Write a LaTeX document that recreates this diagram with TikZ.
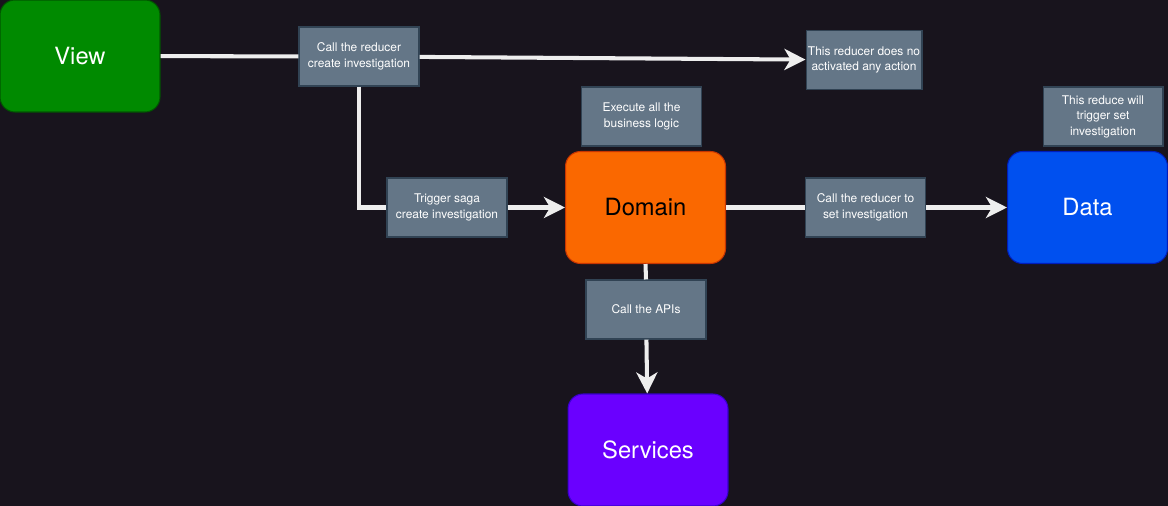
\documentclass[tikz,border=0pt]{standalone}
\usepackage{fontspec}
\setmainfont{TeX Gyre Heros}
\usetikzlibrary{arrows.meta}

\definecolor{bgdark}{HTML}{18141D}
\definecolor{viewgreen}{HTML}{008A00}
\definecolor{viewedge}{HTML}{005700}
\definecolor{domorange}{HTML}{FA6800}
\definecolor{domedge}{HTML}{C73500}
\definecolor{datablue}{HTML}{0050EF}
\definecolor{dataedge}{HTML}{001DBC}
\definecolor{servpurple}{HTML}{6A00FF}
\definecolor{servedge}{HTML}{3700CC}
\definecolor{notegray}{HTML}{647687}
\definecolor{noteedge}{HTML}{314354}
\definecolor{wireclr}{HTML}{EEEEEE}

\tikzset{
	layer/.style={rounded corners=0.3cm, minimum width=3.2cm, minimum height=2.24cm, line width=0.6pt, text=white, font=\fontsize{13.5}{16}\selectfont},
	note/.style={fill=notegray, draw=noteedge, line width=0.6pt, minimum width=2.4cm, minimum height=1.18cm, inner sep=1pt, align=center, text=white, font=\fontsize{6.8}{8.8}\selectfont},
	wire/.style={draw=wireclr, line width=2.3pt},
	flow/.style={wire, -{Stealth[length=12pt, width=12pt, inset=3.5pt]}}
}

\begin{document}
\begin{tikzpicture}[x=0.02cm, y=-0.02cm]
	\fill[bgdark] (0,0) rectangle (1168,506);
	\useasboundingbox (0,0) rectangle (1168,506);
	% layers
	\node[layer, fill=viewgreen, draw=viewedge] (view) at (80,56) {View};
	\node[layer, fill=domorange, draw=domedge, text=black] (domain) at (645.5,207.5) {Domain};
	\node[layer, fill=datablue, draw=dataedge] (data) at (1087.5,207.5) {Data};
	\node[layer, fill=servpurple, draw=servedge] (services) at (648,450) {Services};
	% notes
	\node[note] (callred) at (359,56.5) {Call the reducer\\create investigation};
	\node[note, minimum width=2.32cm] (noaction) at (864,60) {This reducer does no\\activated any action};
	\node[note] (logic) at (641.5,116.5) {Execute all the\\business logic};
	\node[note] (trigger) at (1103,116.5) {This reduce will\\trigger set\\investigation};
	\node[note] (saga) at (447,207.5) {Trigger saga\\create investigation};
	\node[note] (setinv) at (865.5,207.5) {Call the reducer to\\set investigation};
	\node[note] (apis) at (646,309.5) {Call the APIs};
	% connectors
	\draw[wire] (view) -- (callred);
	\draw[flow] (callred) -- (noaction);
	\draw[wire] (callred.south) |- (saga.west);
	\draw[flow] (saga) -- (domain);
	\draw[wire] (domain) -- (setinv);
	\draw[flow] (setinv) -- (data);
	\draw[wire] (domain.south) -- (apis.north);
	\draw[flow] (apis) -- (services);
\end{tikzpicture}
\end{document}
